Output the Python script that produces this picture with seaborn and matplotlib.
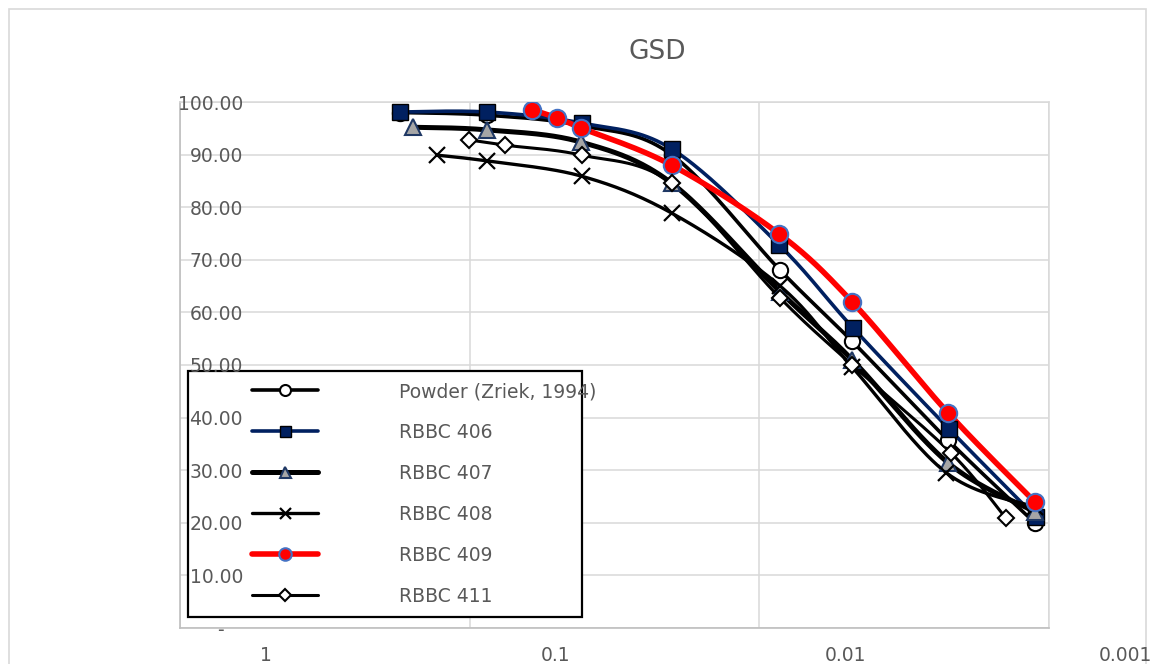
import numpy as np
import matplotlib
matplotlib.use("Agg")
import matplotlib.pyplot as plt
from matplotlib.lines import Line2D
from matplotlib.patches import Rectangle
from matplotlib.ticker import FuncFormatter, NullLocator, FixedLocator
from matplotlib.transforms import ScaledTranslation
import seaborn as sns

# ---------------- data (grain size in mm, percent finer) ----------------
powder_d = [0.174, 0.0874, 0.0411, 0.0201, 0.00847, 0.00478, 0.00223, 0.00112]
powder_p = [98.0, 97.5, 95.5, 90.0, 68.0, 54.5, 35.7, 20.0]

rbbc406_d = [0.174, 0.0874, 0.0411, 0.0201, 0.00853, 0.00474, 0.00221, 0.00111]
rbbc406_p = [98.1, 98.1, 96.0, 91.1, 72.8, 57.0, 37.8, 21.1]

rbbc407_d = [0.157, 0.0874, 0.0414, 0.0201, 0.00847, 0.00478, 0.00223, 0.00112]
rbbc407_p = [95.2, 94.7, 92.4, 84.6, 63.9, 51.0, 31.4, 22.1]

rbbc408_d = [0.130, 0.0874, 0.0411, 0.0201, 0.00847, 0.00478, 0.00226, 0.00112]
rbbc408_p = [89.9, 88.8, 85.9, 78.9, 65.0, 49.6, 29.5, 23.0]

rbbc409_d = [0.0607, 0.0501, 0.0414, 0.0201, 0.00853, 0.00478, 0.00223, 0.00112]
rbbc409_p = [98.5, 97.0, 95.1, 88.0, 74.9, 62.0, 40.9, 24.0]

rbbc411_d = [0.1007, 0.0757, 0.0411, 0.0201, 0.00847, 0.00478, 0.00218, 0.00141]
rbbc411_p = [92.8, 91.8, 89.9, 84.6, 62.7, 50.0, 33.3, 20.9]

series_labels = ["Powder (Zriek, 1994)", "RBBC 406", "RBBC 407", "RBBC 408", "RBBC 409", "RBBC 411"]
x_ticks = [1, 0.1, 0.01, 0.001]
x_tick_labels = ["1", "0.1", "0.01", "0.001"]
y_ticks = [0, 10, 20, 30, 40, 50, 60, 70, 80, 90, 100]
title = "GSD"

# ---------------- styles ----------------
styles = [
    dict(color="black", lw=2.6, marker="o", ms=11, mfc="white", mec="black", mew=1.5),
    dict(color="#002060", lw=2.6, marker="s", ms=11, mfc="#002060", mec="black", mew=1.0),
    dict(color="black", lw=3.6, marker="^", ms=11, mfc="#A6A6A6", mec="#1F3864", mew=1.5),
    dict(color="black", lw=2.4, marker="x", ms=11, mfc="black", mec="black", mew=1.6),
    dict(color="#FF0000", lw=4.0, marker="o", ms=12.5, mfc="#FF0000", mec="#4472C4", mew=1.5),
    dict(color="black", lw=2.2, marker="D", ms=8, mfc="white", mec="black", mew=1.5),
]
data = [(powder_d, powder_p), (rbbc406_d, rbbc406_p), (rbbc407_d, rbbc407_p),
        (rbbc408_d, rbbc408_p), (rbbc409_d, rbbc409_p), (rbbc411_d, rbbc411_p)]

TXT = "#595959"
GRID = "#D9D9D9"

W, H = 1152, 664
L, R, T, B = 180, 1049, 102, 628
XS = (R - L) / 3.0   # px per decade
YS = (B - T) / 100.0  # px per percent


def smooth(xd, yd, n=40):
    """Excel-like smoothed curve (Bezier through points) in display-like space."""
    u = -np.log10(np.asarray(xd, float)) * XS
    v = np.asarray(yd, float) * YS
    P = np.column_stack([u, v])
    pts = []
    for i in range(len(P) - 1):
        p0 = P[i - 1] if i > 0 else P[i]
        p3 = P[i + 2] if i + 2 < len(P) else P[i + 1]
        p1, p2 = P[i], P[i + 1]
        c1 = p1 + (p2 - p0) / 6.0
        c2 = p2 - (p3 - p1) / 6.0
        t = np.linspace(0, 1, n)[:, None]
        if i > 0:
            t = t[1:]
        bz = (1 - t) ** 3 * p1 + 3 * (1 - t) ** 2 * t * c1 + 3 * (1 - t) * t ** 2 * c2 + t ** 3 * p2
        pts.append(bz)
    pts = np.vstack(pts)
    return 10 ** (-pts[:, 0] / XS), pts[:, 1] / YS


sns.set_style("white")
plt.rcParams["font.family"] = ["DejaVu Sans"]

fig = plt.figure(figsize=(W / 100, H / 100), dpi=100)
fig.patch.set_facecolor("white")

ax = fig.add_axes([L / W, 1 - B / H, (R - L) / W, (B - T) / H])
ax.set_xscale("log")
ax.set_xlim(1, 0.001)
ax.set_ylim(0, 100)
ax.xaxis.set_major_locator(FixedLocator(x_ticks))
ax.xaxis.set_minor_locator(NullLocator())
ax.yaxis.set_major_locator(FixedLocator(y_ticks))
ax.grid(True, color=GRID, lw=1.1)
ax.tick_params(length=0, labelleft=False, labelbottom=False)
for s in ["left", "bottom"]:
    ax.spines[s].set_color("#BFBFBF")
    ax.spines[s].set_linewidth(1.2)
for s in ["right", "top"]:
    ax.spines[s].set_color(GRID)
    ax.spines[s].set_linewidth(1.1)

for (d, p), st in zip(data, styles):
    sx, sy = smooth(d, p)
    sns.lineplot(x=sx, y=sy, sort=False, estimator=None, color=st["color"],
                 lw=st["lw"], ax=ax, legend=False, zorder=2)
    sns.lineplot(x=d, y=p, sort=False, estimator=None, ax=ax, legend=False,
                 linestyle="", marker=st["marker"], markersize=st["ms"],
                 markerfacecolor=st["mfc"], markeredgecolor=st["mec"],
                 markeredgewidth=st["mew"], color=st["color"], zorder=3)

# legend box (drawn separately so its size matches the original)
lx0, lx1, ly0, ly1 = 188, 582, 371, 617
ax.add_patch(Rectangle((lx0 / W, 1 - ly1 / H), (lx1 - lx0) / W, (ly1 - ly0) / H,
                       transform=fig.transFigure, facecolor="white", edgecolor="black",
                       lw=1.6, zorder=4, clip_on=False))
handles = [Line2D([0], [0], color=st["color"], lw=st["lw"], marker=st["marker"],
                  ms=st["ms"] * 0.72, mfc=st["mfc"], mec=st["mec"], mew=st["mew"])
           for st in styles]
leg = ax.legend(handles, series_labels, loc="upper left",
                bbox_to_anchor=(252 / W, 1 - 382 / H), bbox_transform=fig.transFigure,
                frameon=False, fontsize=13.5, handlelength=3.5, handletextpad=4.35,
                labelspacing=1.17, borderpad=0, borderaxespad=0)
leg.set_zorder(5)
for t in leg.get_texts():
    t.set_color(TXT)

# overlay axes carrying the (offset) tick labels, drawn on top of everything
OFF = 86
ax2 = fig.add_axes([(L + OFF) / W, 1 - B / H, (R - L) / W, (B - T) / H], frameon=False, zorder=10)
ax2.patch.set_alpha(0)
ax2.set_xscale("log")
ax2.set_xlim(1, 0.001)
ax2.set_ylim(0, 100)
ax2.xaxis.set_major_locator(FixedLocator(x_ticks))
ax2.xaxis.set_minor_locator(NullLocator())
ax2.set_xticklabels(x_tick_labels)
ax2.yaxis.set_major_locator(FixedLocator(y_ticks))
ax2.yaxis.set_major_formatter(FuncFormatter(lambda v, pos: "-   " if v == 0 else f"{v:.2f}"))
ax2.grid(False)
ax2.tick_params(axis="y", length=0, pad=(266 - 243) / 1.389, labelsize=13.5, labelcolor=TXT)
ax2.tick_params(axis="x", length=0, pad=13, labelsize=13.5, labelcolor=TXT)
last = ax2.get_xticklabels()[-1]
last.set_transform(last.get_transform() + ScaledTranslation(-0.10, 0, fig.dpi_scale_trans))

fig.text(657 / W, 1 - 52 / H, title, ha="center", va="center", fontsize=19, color=TXT)

# outer chart border
fig.patches.append(Rectangle((9 / W, -0.05), (1146 - 9) / W, 1 - 9 / H + 0.05,
                             transform=fig.transFigure, fill=False, edgecolor=GRID, lw=1.2))

fig.savefig("out.png", dpi=100)
